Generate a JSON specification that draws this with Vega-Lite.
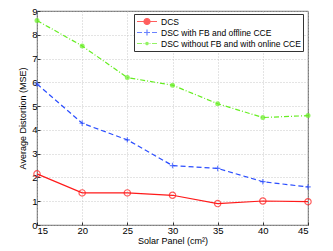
{
  "$schema": "https://vega.github.io/schema/vega-lite/v6.json",
  "width": 271,
  "height": 214,
  "autosize": {"type": "none"},
  "padding": {"left": 37, "top": 11, "right": 25, "bottom": 26},
  "config": {
    "font": "Liberation Sans",
    "view": {"stroke": "#333", "strokeWidth": 0.8},
    "axis": {
      "labelFont": "Liberation Sans", "titleFont": "Liberation Sans",
      "labelFontSize": 9.5, "titleFontSize": 9, "titleFontWeight": "normal",
      "labelColor": "#000", "titleColor": "#000",
      "domain": false, "tickColor": "#333", "tickSize": -3,
      "gridColor": "#bbb", "gridDash": [1, 2], "gridWidth": 0.8, "gridOpacity": 1
    },
    "legend": {
      "title": null, "orient": "none", "legendX": 97, "legendY": 3,
      "strokeColor": "#333", "fillColor": "#fff", "padding": 2,
      "labelFontSize": 8.5, "labelFont": "Liberation Sans", "labelColor": "#000",
      "symbolSize": 400, "clipHeight": 11, "rowPadding": 0, "labelOffset": 3,
      "symbolStrokeWidth": 1.2
    }
  },
  "data": {"values": [
    {"x": 15, "series": "DCS", "y": 2.15},
    {"x": 20, "series": "DCS", "y": 1.35},
    {"x": 25, "series": "DCS", "y": 1.35},
    {"x": 30, "series": "DCS", "y": 1.25},
    {"x": 35, "series": "DCS", "y": 0.9},
    {"x": 40, "series": "DCS", "y": 1.01},
    {"x": 45, "series": "DCS", "y": 0.98},
    {"x": 15, "series": "DSC with FB and offline CCE", "y": 5.93},
    {"x": 20, "series": "DSC with FB and offline CCE", "y": 4.28},
    {"x": 25, "series": "DSC with FB and offline CCE", "y": 3.58},
    {"x": 30, "series": "DSC with FB and offline CCE", "y": 2.5},
    {"x": 35, "series": "DSC with FB and offline CCE", "y": 2.38},
    {"x": 40, "series": "DSC with FB and offline CCE", "y": 1.82},
    {"x": 45, "series": "DSC with FB and offline CCE", "y": 1.6},
    {"x": 15, "series": "DSC without FB and with online CCE", "y": 8.6},
    {"x": 20, "series": "DSC without FB and with online CCE", "y": 7.53},
    {"x": 25, "series": "DSC without FB and with online CCE", "y": 6.2},
    {"x": 30, "series": "DSC without FB and with online CCE", "y": 5.88},
    {"x": 35, "series": "DSC without FB and with online CCE", "y": 5.1},
    {"x": 40, "series": "DSC without FB and with online CCE", "y": 4.52},
    {"x": 45, "series": "DSC without FB and with online CCE", "y": 4.6}
  ]},
  "encoding": {
    "x": {"field": "x", "type": "quantitative",
      "scale": {"domain": [15, 45], "nice": false, "zero": false},
      "axis": {"values": [15, 20, 25, 30, 35, 40, 45], "title": "Solar Panel (cm²)", "titlePadding": 2, "labelPadding": 3}},
    "y": {"field": "y", "type": "quantitative",
      "scale": {"domain": [0, 9], "nice": false},
      "axis": {"values": [0, 1, 2, 3, 4, 5, 6, 7, 8, 9], "title": "Average Distortion (MSE)", "titlePadding": 4, "labelPadding": 3}},
    "color": {"field": "series", "type": "nominal",
      "scale": {"domain": ["DCS", "DSC with FB and offline CCE", "DSC without FB and with online CCE"],
                "range": ["#ff1a1a", "#2a4dff", "#66ee22"]}}
  },
  "layer": [
    {
      "transform": [{"filter": "datum.series === 'DCS'"}],
      "mark": {"type": "line", "strokeWidth": 1.2}
    },
    {
      "transform": [{"filter": "datum.series === 'DSC with FB and offline CCE'"}],
      "mark": {"type": "line", "strokeWidth": 1.2, "strokeDash": [5, 3]}
    },
    {
      "transform": [{"filter": "datum.series === 'DSC without FB and with online CCE'"}],
      "mark": {"type": "line", "strokeWidth": 1.2, "strokeDash": [5, 2, 1, 2]}
    },
    {
      "transform": [{"filter": "datum.series === 'DCS'"}],
      "mark": {"type": "point", "shape": "circle", "filled": false, "strokeWidth": 1.2, "size": 40}
    },
    {
      "transform": [{"filter": "datum.series === 'DSC with FB and offline CCE'"}],
      "mark": {"type": "point", "shape": "M-1,0L1,0M0,-1L0,1", "filled": false, "strokeWidth": 1.2, "size": 30}
    },
    {
      "transform": [{"filter": "datum.series === 'DSC without FB and with online CCE'"}],
      "mark": {"type": "point", "shape": "circle", "filled": true, "size": 25}
    },
    {
      "data": {"values": []},
      "mark": {"type": "point", "filled": false, "strokeWidth": 1.2},
      "encoding": {
        "shape": {"field": "series", "type": "nominal",
          "scale": {"domain": ["DCS", "DSC with FB and offline CCE", "DSC without FB and with online CCE"],
                    "range": [
                      "M-1,0L-0.3,0M0.3,0L1,0M-0.3,0A0.3,0.3,0,1,0,0.3,0A0.3,0.3,0,1,0,-0.3,0",
                      "M-1,0L-0.5,0M-0.3,0L0.3,0M0.5,0L1,0M0,-0.3L0,0.3",
                      "M-1,0L-0.5,0M-0.35,0L-0.25,0M0.25,0L0.35,0M0.5,0L1,0M-0.12,0A0.12,0.12,0,1,0,0.12,0A0.12,0.12,0,1,0,-0.12,0"]}}
      }
    }
  ]
}
